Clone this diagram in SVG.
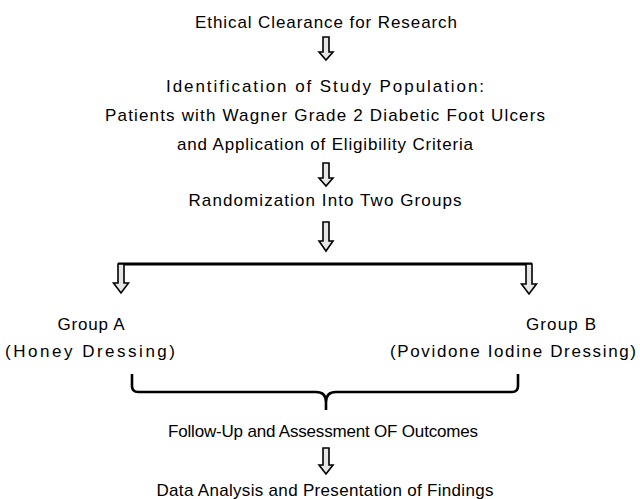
<svg xmlns="http://www.w3.org/2000/svg" width="640" height="499" viewBox="0 0 640 499">
<style>
  text { font-family: "Liberation Sans", Arial, sans-serif; font-size: 17px; fill: #000; }
  .c { text-anchor: middle; }
  .arrow { fill: #e6e6e6; stroke: #000; stroke-width: 1.6; stroke-linejoin: miter; }
  .line { fill: none; stroke: #000; stroke-width: 3; }
  .brace { fill: none; stroke: #000; stroke-width: 2.6; stroke-linejoin: round; }
</style>
<rect width="640" height="499" fill="#fff"/>
<g id="n1"><text class="c" x="326" y="28" textLength="262" lengthAdjust="spacing">Ethical Clearance for Research</text></g>
<g id="n2">
  <text class="c" x="325" y="92" textLength="318" lengthAdjust="spacing">Identification of Study Population:</text>
  <text class="c" x="325" y="121" textLength="440" lengthAdjust="spacing">Patients with Wagner Grade 2 Diabetic Foot Ulcers</text>
  <text class="c" x="325" y="150" textLength="296" lengthAdjust="spacing">and Application of Eligibility Criteria</text>
</g>
<g id="n3"><text class="c" x="325" y="206" textLength="273" lengthAdjust="spacing">Randomization Into Two Groups</text></g>
<g id="n4">
  <text class="c" x="91" y="330" textLength="67" lengthAdjust="spacing">Group A</text>
  <text class="c" x="90" y="357" textLength="170" lengthAdjust="spacing">(Honey Dressing)</text>
</g>
<g id="n5">
  <text class="c" x="561" y="330" textLength="70" lengthAdjust="spacing">Group B</text>
  <text class="c" x="513" y="357" textLength="246" lengthAdjust="spacing">(Povidone Iodine Dressing)</text>
</g>
<g id="n6"><text class="c" x="323" y="437" textLength="310" lengthAdjust="spacing">Follow-Up and Assessment OF Outcomes</text></g>
<g id="n7"><text class="c" x="325" y="496" textLength="337" lengthAdjust="spacing">Data Analysis and Presentation of Findings</text></g>
<g id="connectors">
  <path class="arrow" d="M323,37 H329 V52 H333 L326,60 L319,52 H323 Z"/>
  <path class="arrow" d="M323,163 H329 V178 H333 L326,186 L319,178 H323 Z"/>
  <path class="arrow" d="M323,222 H329 V241 H333 L326,251 L319,241 H323 Z"/>
  <path class="line" d="M118,264 H532"/>
  <path class="arrow" d="M118,264 H124 V283 H128.5 L121,293 L113.5,283 H118 Z"/>
  <path class="arrow" d="M526,264 H532 V284 H536.5 L529,294 L521.5,284 H526 Z"/>
  <path class="brace" d="M132,374 V386 Q132,392 138,392 H316 Q326,392 326,402 V410 M326,410 V402 Q326,392 336,392 H512 Q518,392 518,386 V374"/>
  <path class="arrow" d="M323,448 H329 V465 H333 L326,474 L319,465 H323 Z"/>
</g>
</svg>
